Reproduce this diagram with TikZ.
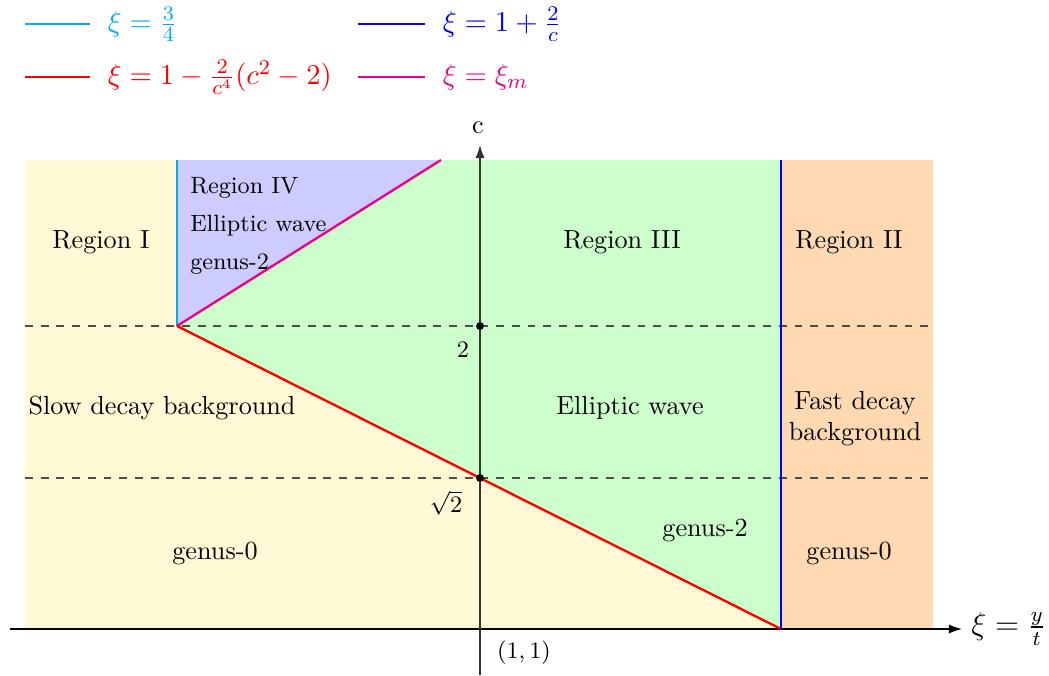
\documentclass[tikz,border=0pt]{standalone}
\usetikzlibrary{arrows.meta}
\definecolor{ylw}{RGB}{255,249,214}
\definecolor{grn}{RGB}{204,255,204}
\definecolor{prp}{RGB}{204,204,255}
\definecolor{pch}{RGB}{255,217,178}
\definecolor{cyn}{RGB}{0,174,239}
\definecolor{mgt}{RGB}{236,0,140}
\begin{document}
\begin{tikzpicture}[x=0.382pt,y=-0.382pt,
  curve/.style={line width=0.9pt},
  legtext/.style={right=3pt,font=\fontsize{11}{13}\selectfont},
  axis/.style={line width=0.5pt,-{Latex[length=5pt,width=3.5pt]}},
  dashln/.style={dashed,black!70,line width=0.5pt},
  dotpt/.style={circle,fill=black,inner sep=0pt,minimum size=3pt}]
\useasboundingbox (0,0) rectangle (1049,675);
% coordinates
\coordinate (TL) at (25,160);
\coordinate (P) at (177,326);
\coordinate (PT) at (177,160);
\coordinate (M) at (441,160);
\coordinate (BT) at (781,160);
\coordinate (BB) at (781,629);
\coordinate (RB) at (933,629);
% fills
\fill[ylw] (TL) rectangle (BB);
\fill[pch] (BT) rectangle (RB);
\fill[grn] (P) -- (M) -- (BT) -- (BB) -- cycle;
\fill[prp] (PT) -- (M) -- (P) -- cycle;
% dashed lines
\coordinate (D1a) at (25,326); \coordinate (D1b) at (930,326);
\coordinate (D2a) at (25,478); \coordinate (D2b) at (930,478);
\draw[dashln] (D1a) -- (D1b);
\draw[dashln] (D2a) -- (D2b);
% axes
\coordinate (xs) at (10,629); \coordinate (xe) at (962,629);
\coordinate (ys) at (480,675); \coordinate (ye) at (480,145);
\draw[axis] (xs) -- (xe) node[right=0pt,font=\large] (xl) {$\xi=\frac{y}{t}$};
\draw[axis,black!80] (ys) -- (ye);
\node (cl) at (478,128) {c};
% curves
\draw[curve,cyn] (PT) -- (P);
\draw[curve,mgt] (P) -- (M);
\draw[curve,red] (P) -- (BB);
\draw[curve,blue] (BT) -- (BB);
% points
\node[dotpt] (d2) at (480,326) {};
\node[dotpt] (ds2) at (480,478) {};
\node[font=\small] (l2) at (463,350) {$2$};
\node[font=\small] (ls2) at (446,503) {$\sqrt{2}$};
\node[font=\small] (l11) at (524,653) {$(1,1)$};
% region labels
\node (r1) at (101,242) {Region I};
\node[anchor=west,font=\small] (r4a) at (181,188) {Region IV};
\node[anchor=west,font=\small] (r4b) at (181,226) {Elliptic wave};
\node[anchor=west,font=\small] (r4c) at (181,264) {genus-2};
\node (r3) at (622,242) {Region III};
\node (r2) at (849,242) {Region II};
\node (sd) at (162,408) {Slow decay background};
\node (ew) at (630,408) {Elliptic wave};
\node[align=center,text depth=0pt] (fd) at (855,416) {Fast decay\\ background};
\node (g0l) at (215,553) {genus-0};
\node (g2) at (705,530) {genus-2};
\node (g0r) at (849,553) {genus-0};
% legend
\coordinate (la1) at (25,24); \coordinate (lb1) at (90,24);
\coordinate (la2) at (358,24); \coordinate (lb2) at (425,24);
\coordinate (la3) at (25,77); \coordinate (lb3) at (90,77);
\coordinate (la4) at (358,77); \coordinate (lb4) at (425,77);
\draw[curve,cyn] (la1) -- (lb1) node[legtext,text=cyn] (t1) {$\xi=\frac{3}{4}$};
\draw[curve,blue] (la2) -- (lb2) node[legtext,text=blue] (t2) {$\xi=1+\frac{2}{c}$};
\draw[curve,red] (la3) -- (lb3) node[legtext,text=red] (t3) {$\xi=1-\frac{2}{c^4}(c^2-2)$};
\draw[curve,mgt] (la4) -- (lb4) node[legtext,text=mgt] (t4) {$\xi=\xi_m$};
\end{tikzpicture}
\end{document}
